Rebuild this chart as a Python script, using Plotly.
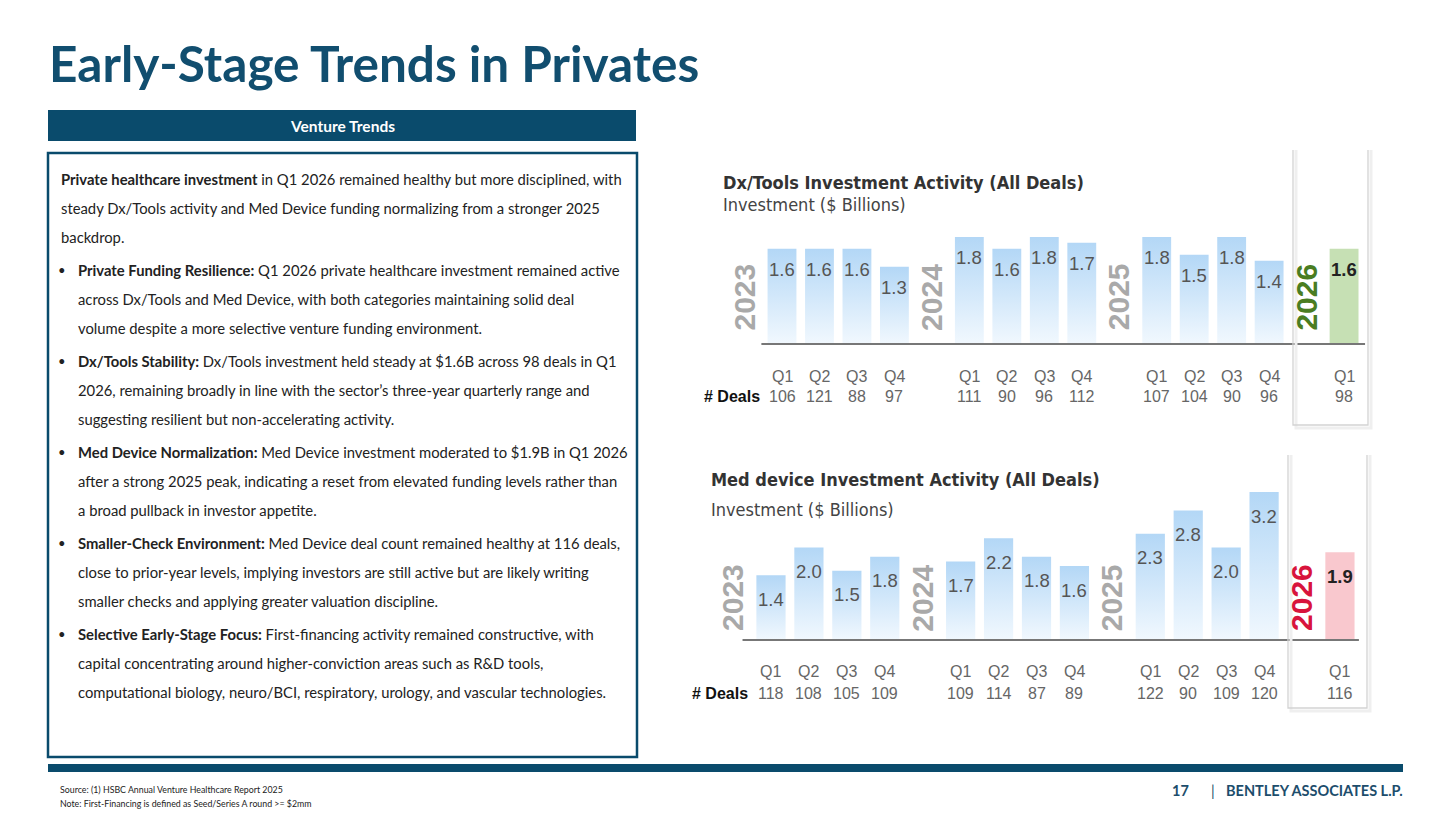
import plotly.graph_objects as go

# Page size in pixels
W, H = 1451, 816

# Chart data
quarters = ["Q1", "Q2", "Q3", "Q4", "Q1", "Q2", "Q3", "Q4", "Q1", "Q2", "Q3", "Q4", "Q1"]
years = ["2023", "2024", "2025", "2026"]
dx_invest = [1.6, 1.6, 1.6, 1.3, 1.8, 1.6, 1.8, 1.7, 1.8, 1.5, 1.8, 1.4, 1.6]
dx_deals = [106, 121, 88, 97, 111, 90, 96, 112, 107, 104, 90, 96, 98]
med_invest = [1.4, 2.0, 1.5, 1.8, 1.7, 2.2, 1.8, 1.6, 2.3, 2.8, 2.0, 3.2, 1.9]
med_deals = [118, 108, 105, 109, 109, 114, 87, 89, 122, 90, 109, 120, 116]

# Left panel text (one entry per printed line)
intro_lines = [
    "<b>Private healthcare investment</b> in Q1 2026 remained healthy but more disciplined, with",
    "steady Dx/Tools activity and Med Device funding normalizing from a stronger 2025",
    "backdrop.",
]
bullets = [
    ["<b>Private Funding Resilience:</b> Q1 2026 private healthcare investment remained active",
     "across Dx/Tools and Med Device, with both categories maintaining solid deal",
     "volume despite a more selective venture funding environment."],
    ["<b>Dx/Tools Stability:</b> Dx/Tools investment held steady at $1.6B across 98 deals in Q1",
     "2026, remaining broadly in line with the sector\u2019s three-year quarterly range and",
     "suggesting resilient but non-accelerating activity."],
    ["<b>Med Device Normalization:</b> Med Device investment moderated to $1.9B in Q1 2026",
     "after a strong 2025 peak, indicating a reset from elevated funding levels rather than",
     "a broad pullback in investor appetite."],
    ["<b>Smaller-Check Environment:</b> Med Device deal count remained healthy at 116 deals,",
     "close to prior-year levels, implying investors are still active but are likely writing",
     "smaller checks and applying greater valuation discipline."],
    ["<b>Selective Early-Stage Focus:</b> First-financing activity remained constructive, with",
     "capital concentrating around higher-conviction areas such as R&amp;D tools,",
     "computational biology, neuro/BCI, respiratory, urology, and vascular technologies."],
]

NAVY = "#0a4b6c"
TITLE_BLUE = "#114e6f"
BODY_FONT = "Lato, Carlito, 'Open Sans', sans-serif"
CHART_FONT = "'Liberation Sans', Arial, sans-serif"
COND_FONT = "'Liberation Sans Narrow', 'Arial Narrow', 'DejaVu Sans Condensed', Roboto, sans-serif"


def px(x):
    return x / W


def py(y):
    return 1 - y / H


fig = go.Figure()
annotations = []
shapes = []


def add_chart(vals, deals, xa, ya, new_col, new_font, label_shift, y_year, y_q, y_deal, x_deal):
    xref = "x" if xa == 1 else "x%d" % xa
    yref = "y" if ya == 1 else "y%d" % ya
    hw = 0.385
    for i, v in enumerate(vals):
        pos = i + i // 4
        last = i == len(vals) - 1
        tr = dict(
            x=[pos - hw, pos - hw, pos + hw, pos + hw, pos - hw],
            y=[0, v, v, 0, 0],
            mode="lines", fill="toself", line=dict(width=0),
            hoverinfo="skip", showlegend=False, xaxis=xref, yaxis=yref,
        )
        if last:
            tr["fillcolor"] = new_col
        else:
            tr["fillgradient"] = dict(type="vertical",
                                      colorscale=[[0, "#f1f8fe"], [1, "#b3d7f6"]])
        fig.add_trace(go.Scatter(**tr))
        annotations.append(dict(
            x=pos, y=v, xref=xref, yref=yref, yshift=label_shift, showarrow=False,
            text=("<b>%.1f</b>" % v) if last else "%.1f" % v,
            font=dict(family=CHART_FONT, size=18.5, color="#222" if last else "#555"),
        ))
        annotations.append(dict(x=pos, y=y_q, xref=xref, yref=yref, showarrow=False,
                                text=quarters[i], font=dict(family=CHART_FONT, size=16, color="#666")))
        annotations.append(dict(x=pos, y=y_deal, xref=xref, yref=yref, showarrow=False,
                                text=str(deals[i]), font=dict(family=CHART_FONT, size=16, color="#666")))
    for k, yr in enumerate(years):
        annotations.append(dict(
            x=5 * k - 1, y=y_year, xref=xref, yref=yref, showarrow=False, textangle=-90,
            text="<b>%s</b>" % yr,
            font=dict(family=CHART_FONT, size=30, color=new_font if k == 3 else "#a9a9a9"),
        ))
    annotations.append(dict(x=x_deal, y=y_deal, xref=xref, yref=yref, xanchor="right",
                            showarrow=False, text="<b># Deals</b>",
                            font=dict(family=CHART_FONT, size=16, color="#111")))


# Dx/Tools chart (top)
add_chart(dx_invest, dx_deals, 1, 1, "#c6e0b4", "#4a7d22", -21, 0.79, -0.54, -0.875, -0.53)
# Med device chart (bottom)
add_chart(med_invest, med_deals, 2, 2, "#f9c8ce", "#d8143c", -24, 0.91, -0.69, -1.146, -0.55)

# baselines
shapes.append(dict(type="line", xref="x", yref="y", x0=-0.55, x1=15.56, y0=0, y1=0,
                   line=dict(color="#777", width=2.2)))
shapes.append(dict(type="line", xref="x2", yref="y2", x0=-0.75, x1=15.5, y0=0, y1=0,
                   line=dict(color="#777", width=2.2)))

# 2026 highlight frames
for (x0, x1, y0, y1) in [(1293, 1368, 150, 425), (1288, 1367, 455, 708)]:
    shapes.append(dict(type="path", xref="paper", yref="paper",
                       path="M %f,%f L %f,%f L %f,%f L %f,%f" % (
                           px(x0 + 3), py(y0), px(x0 + 3), py(y1 + 3), px(x1 + 3), py(y1 + 3), px(x1 + 3), py(y0)),
                       line=dict(color="#efefef", width=3)))
    shapes.append(dict(type="path", xref="paper", yref="paper",
                       path="M %f,%f L %f,%f L %f,%f L %f,%f" % (
                           px(x0), py(y0), px(x0), py(y1), px(x1), py(y1), px(x1), py(y0)),
                       line=dict(color="#d3d3d3", width=1.3)))

# chart titles
for (x, y, t, sub) in [(721, 182, "Dx/Tools Investment Activity (All Deals)", False),
                       (721, 204, "Investment ($ Billions)", True),
                       (709, 479, "Med device Investment Activity (All Deals)", False),
                       (709, 509, "Investment ($ Billions)", True)]:
    annotations.append(dict(
        x=px(x), y=py(y), xref="paper", yref="paper", xanchor="left", yanchor="middle",
        showarrow=False, text=t if sub else "<b>%s</b>" % t,
        font=dict(family=COND_FONT, size=18, color="#444" if sub else "#333"),
    ))

# slide title
annotations.append(dict(x=px(47), y=py(63), xref="paper", yref="paper", xanchor="left",
                        yanchor="middle", showarrow=False,
                        text="<b>Early-Stage Trends in Privates</b>",
                        font=dict(family=BODY_FONT, size=49.5, color=TITLE_BLUE)))

# header bar + text box
shapes.append(dict(type="rect", xref="paper", yref="paper", x0=px(48), x1=px(636),
                   y0=py(141), y1=py(110), fillcolor=NAVY, line=dict(width=0)))
annotations.append(dict(x=px(342), y=py(126), xref="paper", yref="paper", showarrow=False,
                        xanchor="center", yanchor="middle",
                        text="<b>Venture Trends</b>",
                        font=dict(family=BODY_FONT, size=15.5, color="white")))
shapes.append(dict(type="rect", xref="paper", yref="paper", x0=px(48), x1=px(637),
                   y0=py(757), y1=py(153), line=dict(color=NAVY, width=2.5)))

# body text
BODY_SIZE = 14.8
line_y = 179
for t in intro_lines:
    annotations.append(dict(x=px(59), y=py(line_y), xref="paper", yref="paper", xanchor="left",
                            yanchor="middle", showarrow=False, text=t,
                            font=dict(family=BODY_FONT, size=BODY_SIZE, color="#222")))
    line_y += 29
line_y += 4
for b in bullets:
    annotations.append(dict(x=px(62), y=py(line_y), xref="paper", yref="paper", xanchor="center",
                            yanchor="middle", showarrow=False, text="\u2022",
                            font=dict(family=BODY_FONT, size=13, color="#222")))
    for t in b:
        annotations.append(dict(x=px(76), y=py(line_y), xref="paper", yref="paper", xanchor="left",
                                yanchor="middle", showarrow=False, text=t,
                                font=dict(family=BODY_FONT, size=BODY_SIZE, color="#222")))
        line_y += 29
    line_y += 4

# footer
shapes.append(dict(type="rect", xref="paper", yref="paper", x0=px(48), x1=px(1403),
                   y0=py(772), y1=py(764), fillcolor=NAVY, line=dict(width=0)))
annotations.append(dict(x=px(58), y=py(789), xref="paper", yref="paper", xanchor="left",
                        yanchor="middle", showarrow=False,
                        text="Source: (1) HSBC Annual Venture Healthcare Report 2025",
                        font=dict(family=BODY_FONT, size=8.8, color="#222")))
annotations.append(dict(x=px(58), y=py(803), xref="paper", yref="paper", xanchor="left",
                        yanchor="middle", showarrow=False,
                        text="Note: First-Financing is defined as Seed/Series A round &gt;= $2mm",
                        font=dict(family=BODY_FONT, size=8.8, color="#222")))
for (x, anc, t) in [(1180, "center", "<b>17</b>"), (1213, "center", "|"),
                    (1405, "right", "<b>BENTLEY ASSOCIATES L.P.</b>")]:
    annotations.append(dict(x=px(x), y=py(790), xref="paper", yref="paper", xanchor=anc,
                            yanchor="middle", showarrow=False, text=t,
                            font=dict(family=BODY_FONT, size=14.5, color="#1d4d6c")))

axis_off = dict(visible=False, showgrid=False, zeroline=False, fixedrange=True)
fig.update_layout(
    width=W, height=H,
    margin=dict(l=0, r=0, t=0, b=0),
    paper_bgcolor="white", plot_bgcolor="rgba(0,0,0,0)",
    showlegend=False,
    xaxis=dict(domain=[px(718.3), px(1370.3)], range=[-1.7, 15.7], **axis_off),
    yaxis=dict(domain=[py(427.3), py(165.5)], range=[-1.4, 3.0], **axis_off),
    xaxis2=dict(domain=[px(706.5), px(1366.5)], range=[-1.7, 15.7], anchor="y2", **axis_off),
    yaxis2=dict(domain=[py(714), py(468.9)], range=[-1.6, 3.7], anchor="x2", **axis_off),
    annotations=annotations,
    shapes=shapes,
)

fig.write_html("out.html", config={"displayModeBar": False},
               post_script="document.body.style.margin='0';document.body.style.overflow='hidden';")
